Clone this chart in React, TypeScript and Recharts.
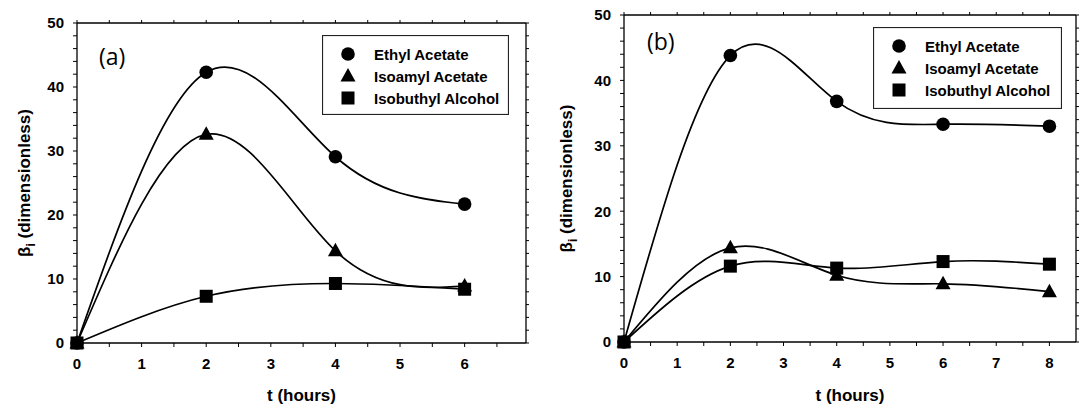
import { Label, Legend, Line, LineChart, XAxis, YAxis } from "recharts";

// panel (a)
const hoursA = [0, 2, 4, 6];
const ethylA = [0, 42.3, 29.1, 21.7];
const isoamylA = [0, 32.6, 14.4, 8.9];
const isobutylA = [0, 7.3, 9.3, 8.4];
const xTicksA = [0, 0.5, 1, 1.5, 2, 2.5, 3, 3.5, 4, 4.5, 5, 5.5, 6, 6.5];

// panel (b)
const hoursB = [0, 2, 4, 6, 8];
const ethylB = [0, 43.8, 36.8, 33.3, 33.0];
const isoamylB = [0, 14.4, 10.2, 8.9, 7.7];
const isobutylB = [0, 11.6, 11.3, 12.3, 11.9];
const xTicksB = [0, 0.5, 1, 1.5, 2, 2.5, 3, 3.5, 4, 4.5, 5, 5.5, 6, 6.5, 7, 7.5, 8];

const yTicks = [0, 2, 4, 6, 8, 10, 12, 14, 16, 18, 20, 22, 24, 26, 28, 30, 32, 34, 36, 38, 40, 42, 44, 46, 48, 50];
const seriesNames = ["Ethyl Acetate", "Isoamyl Acetate", "Isobuthyl Alcohol"];

type Kind = "circle" | "triangle" | "square";
const kinds: Kind[] = ["circle", "triangle", "square"];

const font = "'Liberation Sans', Arial, sans-serif";

function Marker({ cx, cy, kind }: { cx: number; cy: number; kind: Kind }) {
  if (cx == null || cy == null) return null;
  if (kind === "circle") return <circle cx={cx} cy={cy} r={6.8} fill="#000" />;
  if (kind === "square") return <rect x={cx - 6.5} y={cy - 6.5} width={13} height={13} fill="#000" />;
  return <polygon points={`${cx},${cy - 8} ${cx - 7.5},${cy + 5.5} ${cx + 7.5},${cy + 5.5}`} fill="#000" />;
}

function XTick(props: any) {
  const v = props.payload?.value;
  if (!Number.isInteger(v)) return null;
  return (
    <text x={props.x} y={props.y} dy="0.71em" textAnchor="middle" fontFamily={font} fontWeight={700} fontSize={15} fill="#000">
      {v}
    </text>
  );
}

function YTick(props: any) {
  const v = props.payload?.value;
  if (v % 10 !== 0) return null;
  return (
    <text x={props.x} y={props.y} dy="0.355em" textAnchor="end" fontFamily={font} fontWeight={700} fontSize={15} fill="#000">
      {v}
    </text>
  );
}

type PanelLayout = {
  left: number;
  width: number;
  plotLeft: number;
  plotRight: number;
  plotTop: number;
  plotBottom: number;
  yTitleX: number;
  tagX: number;
  tagY: number;
  legendLeft: number;
  legendTop: number;
  legendW: number;
  legendH: number;
};

function Panel({
  tag,
  hours,
  ethyl,
  isoamyl,
  isobutyl,
  xMax,
  xTicks,
  layout
}: {
  tag: string;
  hours: number[];
  ethyl: number[];
  isoamyl: number[];
  isobutyl: number[];
  xMax: number;
  xTicks: number[];
  layout: PanelLayout;
}) {
  const data = hours.map((t, i) => ({ t, ethyl: ethyl[i], isoamyl: isoamyl[i], isobutyl: isobutyl[i] }));
  const keys = ["ethyl", "isoamyl", "isobutyl"];
  const plotMidX = (layout.plotLeft + layout.plotRight) / 2;
  const plotMidY = (layout.plotTop + layout.plotBottom) / 2;

  const renderLegend = () => (
    <svg width={layout.legendW} height={layout.legendH} style={{ display: "block" }}>
      <rect x={0.5} y={0.5} width={layout.legendW - 1} height={layout.legendH - 1} fill="#fff" stroke="#222" strokeWidth={1.2} />
      {seriesNames.map((name, i) => {
        const cy = 19 + i * 22;
        return (
          <g key={name}>
            <Marker cx={26} cy={cy} kind={kinds[i]} />
            <text x={52} y={cy + 5.5} fontFamily={font} fontWeight={700} fontSize={15} fill="#000">
              {name}
            </text>
          </g>
        );
      })}
    </svg>
  );

  return (
    <div style={{ position: "absolute", left: layout.left, top: 0, width: layout.width, height: 416 }}>
      <LineChart
        width={layout.width}
        height={416}
        data={data}
        margin={{ top: layout.plotTop - 1, right: layout.width - layout.plotRight - 1, bottom: 0, left: 0 }}
      >
        <XAxis
          xAxisId="bottom"
          dataKey="t"
          type="number"
          domain={[0, xMax]}
          ticks={xTicks}
          interval={0}
          height={416 - layout.plotBottom}
          tickSize={4}
          tickMargin={11}
          tick={<XTick />}
          stroke="#000"
          axisLine={{ stroke: "#000", strokeWidth: 1.3 }}
          tickLine={{ stroke: "#000" }}
        >
          <Label
            content={() => (
              <text x={plotMidX} y={401} textAnchor="middle" fontFamily={font} fontWeight={700} fontSize={17} fill="#000">
                t (hours)
              </text>
            )}
          />
        </XAxis>
        <XAxis
          xAxisId="top"
          orientation="top"
          dataKey="t"
          type="number"
          domain={[0, xMax]}
          ticks={xTicks}
          interval={0}
          allowDataOverflow
          height={1}
          tickSize={3}
          tickFormatter={() => ""}
          stroke="#000"
          axisLine={{ stroke: "#000", strokeWidth: 1.3 }}
          tickLine={{ stroke: "#000" }}
        >
          <Label
            content={() => (
              <text x={layout.tagX} y={layout.tagY} fontFamily="'Open Sans', 'Liberation Sans', sans-serif" fontSize={23} fill="#000">
                {tag}
              </text>
            )}
          />
        </XAxis>
        <YAxis
          yAxisId="left"
          type="number"
          domain={[0, 50]}
          ticks={yTicks}
          interval={0}
          width={layout.plotLeft}
          tickSize={4}
          tickMargin={9}
          tick={<YTick />}
          stroke="#000"
          axisLine={{ stroke: "#000", strokeWidth: 1.3 }}
          tickLine={{ stroke: "#000" }}
        >
          <Label
            content={() => (
              <text
                x={layout.yTitleX}
                y={plotMidY}
                transform={`rotate(-90 ${layout.yTitleX} ${plotMidY})`}
                textAnchor="middle"
                fontFamily={font}
                fontWeight={700}
                fontSize={17}
                fill="#000"
              >
                β<tspan fontSize={12} dy={5}>i</tspan>
                <tspan dy={-5}> (dimensionless)</tspan>
              </text>
            )}
          />
        </YAxis>
        <YAxis
          yAxisId="right"
          orientation="right"
          type="number"
          domain={[0, 50]}
          ticks={yTicks}
          interval={0}
          allowDataOverflow
          width={1}
          tickSize={3}
          tickFormatter={() => ""}
          stroke="#000"
          axisLine={{ stroke: "#000", strokeWidth: 1.3 }}
          tickLine={{ stroke: "#000" }}
        />
        <Legend
          layout="horizontal"
          verticalAlign="middle"
          align="center"
          content={renderLegend}
          wrapperStyle={{ left: layout.legendLeft, top: layout.legendTop, width: layout.legendW, height: layout.legendH }}
        />
        {keys.map((key, i) => (
          <Line
            key={key}
            xAxisId="bottom"
            yAxisId="left"
            dataKey={key}
            name={seriesNames[i]}
            type="natural"
            stroke="#000"
            strokeWidth={1.7}
            isAnimationActive={false}
            activeDot={false}
            legendType="none"
            dot={(p: any) => <Marker key={`${key}-${p.index}`} cx={p.cx} cy={p.cy} kind={kinds[i]} />}
          />
        ))}
      </LineChart>
    </div>
  );
}

const layoutA: PanelLayout = {
  left: 0,
  width: 540,
  plotLeft: 77,
  plotRight: 526,
  plotTop: 23,
  plotBottom: 343,
  yTitleX: 30,
  tagX: 99,
  tagY: 65,
  legendLeft: 322,
  legendTop: 35,
  legendW: 187,
  legendH: 80
};

const layoutB: PanelLayout = {
  left: 540,
  width: 541,
  plotLeft: 84,
  plotRight: 536,
  plotTop: 15,
  plotBottom: 342,
  yTitleX: 32,
  tagX: 107,
  tagY: 50,
  legendLeft: 333,
  legendTop: 27,
  legendW: 189,
  legendH: 82
};

export default function App() {
  return (
    <div style={{ position: "absolute", left: 0, top: 0, width: 1081, height: 416, background: "#fff" }}>
      <Panel tag="(a)" hours={hoursA} ethyl={ethylA} isoamyl={isoamylA} isobutyl={isobutylA} xMax={6.95} xTicks={xTicksA} layout={layoutA} />
      <Panel tag="(b)" hours={hoursB} ethyl={ethylB} isoamyl={isoamylB} isobutyl={isobutylB} xMax={8.5} xTicks={xTicksB} layout={layoutB} />
    </div>
  );
}
